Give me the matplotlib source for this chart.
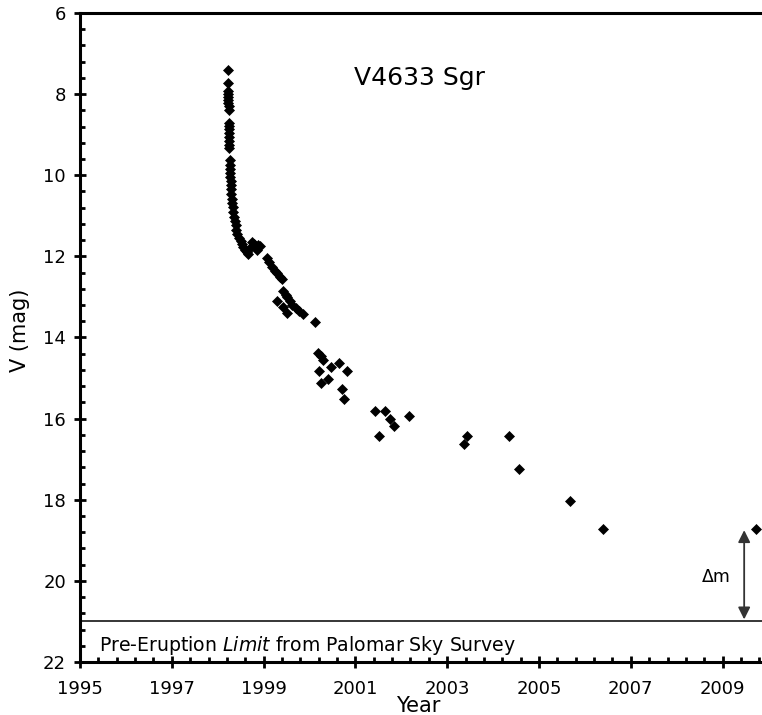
import matplotlib
matplotlib.use("Agg")
import matplotlib.pyplot as plt
import numpy as np

# Light curve of V4633 Sgr
years = [
    1998.23, 1998.23, 1998.23, 1998.23, 1998.23, 1998.23, 1998.23, 1998.24,
    1998.24, 1998.24, 1998.24, 1998.24, 1998.24, 1998.25, 1998.25, 1998.25,
    1998.25, 1998.26, 1998.26, 1998.27, 1998.27, 1998.27, 1998.28, 1998.28,
    1998.29, 1998.30, 1998.31, 1998.32, 1998.33, 1998.34, 1998.36, 1998.38,
    1998.39, 1998.40, 1998.43, 1998.46, 1998.50, 1998.53, 1998.56, 1998.59,
    1998.63, 1998.67, 1998.70, 1998.74, 1998.78, 1998.85, 1998.88, 1998.92,
    1999.08, 1999.12, 1999.18, 1999.25, 1999.30, 1999.36, 1999.40, 1999.42,
    1999.48, 1999.52, 1999.58, 1999.62, 1999.70, 1999.78, 1999.85, 1999.29,
    1999.43, 1999.52, 2000.12, 2000.19, 2000.24, 2000.30, 2000.21, 2000.46,
    2000.65, 2000.82, 2000.24, 2000.41, 2000.70, 2000.75, 2001.43, 2001.64,
    2001.75, 2001.84, 2001.52, 2002.17, 2003.44, 2003.37, 2004.35, 2004.57,
    2005.67, 2006.39, 2009.73,
]
vmag = [
    7.41, 7.73, 7.92, 8.00, 8.08, 8.15, 8.22, 8.30,
    8.40, 8.70, 8.78, 8.87, 8.95, 9.05, 9.15, 9.25,
    9.33, 9.62, 9.75, 9.85, 9.95, 10.05, 10.15, 10.25,
    10.35, 10.45, 10.58, 10.68, 10.78, 10.90, 11.02, 11.12,
    11.22, 11.35, 11.45, 11.55, 11.62, 11.70, 11.78, 11.84,
    11.90, 11.93, 11.80, 11.64, 11.70, 11.84, 11.72, 11.75,
    12.05, 12.15, 12.25, 12.35, 12.42, 12.50, 12.55, 12.85,
    12.95, 13.00, 13.10, 13.20, 13.28, 13.35, 13.42, 13.10,
    13.26, 13.40, 13.61, 14.38, 14.45, 14.55, 14.82, 14.72,
    14.64, 14.82, 15.13, 15.02, 15.28, 15.52, 15.81, 15.81,
    16.02, 16.17, 16.42, 15.93, 16.42, 16.63, 16.42, 17.23,
    18.02, 18.73, 18.73,
]

pre_eruption_limit = 21.0
arrow_year = 2009.47
arrow_top = 18.75

fig = plt.figure(figsize=(7.62, 7.15), dpi=100)
ax = fig.add_axes([80 / 762, 53 / 715, 1 - 80 / 762, 649 / 715])

ax.plot(years, vmag, linestyle='none', marker='D', ms=4.8,
        color='black', mec='black', mew=0.5)

ax.axhline(pre_eruption_limit, color='black', lw=1.1)
ax.text(1995.42, 21.6, 'Pre-Eruption $\\it{Limit}$ from Palomar Sky Survey',
        fontsize=13.6, va='center', ha='left')

ax.annotate('', xy=(arrow_year, arrow_top), xytext=(arrow_year, pre_eruption_limit - 0.05),
            arrowprops=dict(arrowstyle='<|-|>', color='#333333', lw=1.3,
                            mutation_scale=18, shrinkA=0, shrinkB=0))
ax.text(2008.87, 19.9, '\u0394m', fontsize=12.5, ha='center', va='center')

ax.text(2002.39, 7.6, 'V4633 Sgr', fontsize=18, ha='center', va='center')

ax.set_xlim(1995, 1995 + (762 - 80) / 45.9)
ax.set_ylim(22, 6)

ax.set_xticks(np.arange(1995, 2010, 2))
ax.set_xticks(np.arange(1995, 2010, 0.4), minor=True)
ax.set_yticks(np.arange(6, 23, 2))
ax.set_yticks(np.arange(6, 22.01, 0.4), minor=True)

for side in ['left', 'bottom', 'top']:
    ax.spines[side].set_linewidth(2.2)
ax.spines['right'].set_visible(False)

ax.tick_params(axis='x', which='major', direction='inout', length=8, width=2,
               labelsize=13, pad=9)
ax.tick_params(axis='x', which='minor', direction='in', length=3.5, width=2)
ax.tick_params(axis='y', which='major', direction='inout', length=8, width=2,
               labelsize=13, pad=6)
ax.tick_params(axis='y', which='minor', direction='in', length=3.5, width=2)

fig.text(418 / 762, 1 - 706 / 715, 'Year', fontsize=15, ha='center', va='center')
fig.text(20 / 762, 1 - 330 / 715, 'V (mag)', fontsize=15, ha='center', va='center',
         rotation=90)

fig.savefig('out.png', dpi=100, facecolor='white')
